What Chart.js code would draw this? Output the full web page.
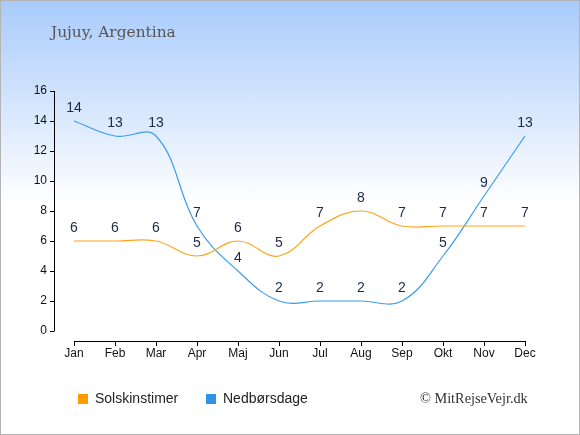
<!DOCTYPE html>
<html>
<head>
<meta charset="utf-8">
<script src="https://cdn.jsdelivr.net/npm/chart.js@4/dist/chart.umd.min.js"></script>
<style>
  html, body { margin: 0; padding: 0; }
  #wrap {
    position: relative; width: 578px; height: 433px;
    border: 1px solid #b4b4b4;
    background: linear-gradient(to bottom, #a9cbfb 0%, #ffffff 47%, #ffffff 100%);
    overflow: hidden;
  }
  canvas { position: absolute; left: -1px; top: -1px; }
  .title { position: absolute; left: 50px; top: 22px; font: 15.4px "DejaVu Serif", serif; color: #555; }
  .legend { position: absolute; top: 389px; font: 14px "Liberation Sans", Arial, sans-serif; color: #222; }
  .legend span.box { display: inline-block; width: 10px; height: 10px; margin-right: 7px; vertical-align: -1px; }
  .copy { position: absolute; left: 419px; top: 389px; font: 14.3px "Liberation Serif", serif; color: #333; }
</style>
</head>
<body>
<div id="wrap">
  <canvas id="myChart" width="580" height="435"></canvas>
  <div class="title">Jujuy, Argentina</div>
  <div class="legend" style="left:77px"><span class="box" style="background:#ff9a00"></span>Solskinstimer</div>
  <div class="legend" style="left:205px"><span class="box" style="background:#2f93e8"></span>Nedbørsdage</div>
  <div class="copy">© MitRejseVejr.dk</div>
</div>
<script>
// data
var maaneder = ["Jan","Feb","Mar","Apr","Maj","Jun","Jul","Aug","Sep","Okt","Nov","Dec"];
var solskin = [6,6,6,5,6,5,7,8,7,7,7,7];
var nedbor = [14,13,13,7,4,2,2,2,2,5,9,13];
var yTicks = [0,2,4,6,8,10,12,14,16];

// tegner akser og tal over punkterne
var akser = {
  id: "akser",
  afterDraw: function (chart) {
    var c = chart.ctx, x = chart.scales.x, y = chart.scales.y;
    var ax = x.left - 20, ay = y.bottom + 10;
    c.save();
    c.strokeStyle = "#000"; c.lineWidth = 1;
    c.beginPath();
    c.moveTo(ax + 0.5, y.getPixelForValue(16)); c.lineTo(ax + 0.5, y.bottom);
    yTicks.forEach(function (t) {
      var py = Math.round(y.getPixelForValue(t)) + 0.5;
      c.moveTo(ax - 4, py); c.lineTo(ax + 0.5, py);
    });
    c.moveTo(x.left, ay + 0.5); c.lineTo(x.right, ay + 0.5);
    maaneder.forEach(function (m, i) {
      var px = Math.round(x.getPixelForValue(i)) + 0.5;
      c.moveTo(px, ay); c.lineTo(px, ay + 5);
    });
    c.stroke();
    c.fillStyle = "#1d2b48";
    c.font = "14px 'Liberation Sans', Arial, sans-serif";
    c.textAlign = "center"; c.textBaseline = "middle";
    chart.data.datasets.forEach(function (ds, d) {
      chart.getDatasetMeta(d).data.forEach(function (pt, i) {
        c.fillText(ds.data[i], pt.x, pt.y - 13);
      });
    });
    c.restore();
  }
};

var ctx = document.getElementById("myChart");
var myLineChart = new Chart(ctx, {
  type: "line",
  data: {
    labels: maaneder,
    datasets: [{
      label: "Solskinstimer",
      data: solskin,
      borderColor: "#ffa31a",
      borderWidth: 1.2,
      tension: 0.4
    }, {
      label: "Nedbørsdage",
      data: nedbor,
      borderColor: "#3d9cec",
      borderWidth: 1.2,
      tension: 0.4
    }]
  },
  options: {
    responsive: false,
    animation: false,
    elements: { point: { radius: 0 } },
    layout: { padding: { top: 91, right: 55, left: 0, bottom: 0 } },
    plugins: { legend: { display: false }, tooltip: { enabled: false } },
    scales: {
      x: {
        offset: false,
        grid: { display: false, drawTicks: false },
        border: { display: false },
        ticks: { padding: 15, color: "#111", font: { family: "'Liberation Sans', Arial, sans-serif", size: 12 }, maxRotation: 0, autoSkip: false },
        afterFit: function (s) { s.height = 104; }
      },
      y: {
        min: 0, max: 16,
        grid: { display: false, drawTicks: false },
        border: { display: false },
        ticks: { stepSize: 2, padding: 27, color: "#111", font: { family: "'Liberation Sans', Arial, sans-serif", size: 12 } },
        afterFit: function (s) { s.width = 74; }
      }
    }
  },
  plugins: [akser]
});
</script>
</body>
</html>
